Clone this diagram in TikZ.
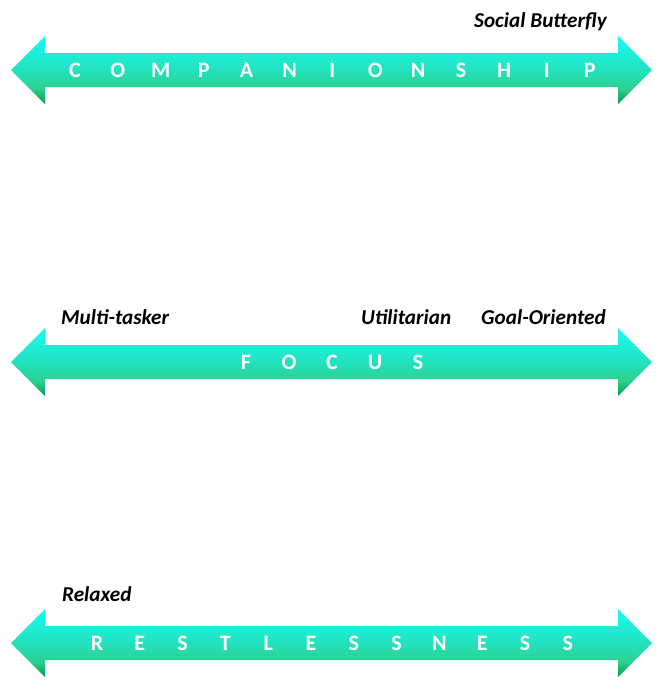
\documentclass[tikz,border=0pt]{standalone}
\usepackage{fontspec}
\setmainfont{Carlito}
\usepackage{xcolor}

\definecolor{axisgreen}{RGB}{0,158,78}
\definecolor{axismint}{RGB}{44,208,140}
\definecolor{axisteal}{RGB}{34,226,190}
\definecolor{axisaqua}{RGB}{30,238,216}
\definecolor{axiscyan}{RGB}{24,250,244}
\pgfdeclareverticalshading{axisfill}{100bp}{color(0bp)=(axisgreen); color(25bp)=(axisgreen);
  color(36bp)=(axismint); color(50bp)=(axisteal); color(62bp)=(axisaqua); color(75bp)=(axiscyan); color(100bp)=(axiscyan)}

\tikzset{
  letter/.style={text=white, font=\bfseries\fontsize{22}{22}\selectfont, inner sep=0pt},
  trait/.style={anchor=base west, font=\bfseries\itshape\fontsize{21.2}{21.2}\selectfont, inner sep=0pt},
  axisbar/.style={shading=axisfill}
}

% double arrow across the page, centred on height #1
\newcommand{\traitaxis}[1]{%
  \path[axisbar] (11,#1) -- (45,#1-34) -- (45,#1-17) -- (618,#1-17) -- (618,#1-34)
    -- (652,#1) -- (618,#1+34) -- (618,#1+17) -- (45,#1+17) -- (45,#1+34) -- cycle;}

\begin{document}
\begin{tikzpicture}[x=1pt,y=-1pt]
\useasboundingbox (0,0) rectangle (663,689);

\traitaxis{70}
\traitaxis{362}
\traitaxis{643}

\foreach \l [count=\i] in {C,O,M,P,A,N,I,O,N,S,H,I,P}
  \node[letter] (comp-\i) at ({75+(\i-1)*42.9},70) {\l};
\foreach \l [count=\i] in {F,O,C,U,S}
  \node[letter] (focus-\i) at ({246+(\i-1)*43},362) {\l};
\foreach \l [count=\i] in {R,E,S,T,L,E,S,S,N,E,S,S}
  \node[letter] (rest-\i) at ({97+(\i-1)*42.8},643) {\l};

\node[trait] (butterfly) at (474,27) {Social Butterfly};
\node[trait] (multitasker) at (61,324) {Multi-tasker};
\node[trait] (utilitarian) at (361,324) {Utilitarian};
\node[trait] (goal) at (481,324) {Goal-Oriented};
\node[trait] (relaxed) at (62,601) {Relaxed};
\end{tikzpicture}
\end{document}
